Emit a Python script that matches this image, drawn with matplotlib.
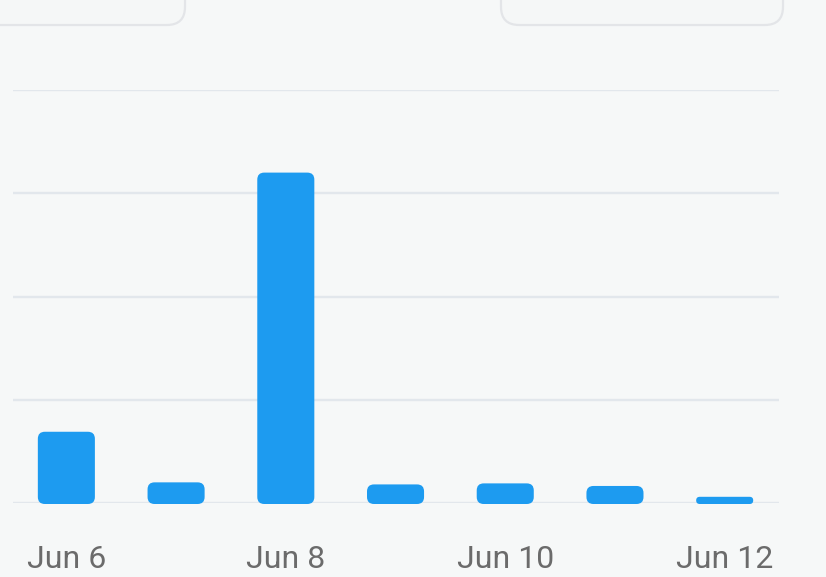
import matplotlib.pyplot as plt
from matplotlib.patches import FancyBboxPatch

# data
days = ["Jun 6", "Jun 7", "Jun 8", "Jun 9", "Jun 10", "Jun 11", "Jun 12"]
values = [69, 20, 320, 18, 19, 16.5, 6]
shown_labels = ["Jun 6", "", "Jun 8", "", "Jun 10", "", "Jun 12"]
y_ticks = [0, 100, 200, 300, 400]

bg = "#f6f8f8"
blue = "#1d9bf0"
grid_col = "#e2e7ec"

W, H = 826, 577
fig = plt.figure(figsize=(W / 100, H / 100), dpi=100)
fig.patch.set_facecolor(bg)

# the two cut-off cards at the top
for x0, x1 in [(-40, 185), (501, 783)]:
    card = FancyBboxPatch((x0 / W, 1 - 25 / H), (x1 - x0) / W, 80 / H,
                          boxstyle="round,pad=0,rounding_size=0.022",
                          mutation_aspect=W / H,
                          transform=fig.transFigure, facecolor="#f5f7f7",
                          edgecolor="#e3e5e8", linewidth=1.6)
    fig.patches.append(card)

ax = fig.add_axes([12.6 / W, 74 / H, (779 - 12.6) / W, (503 - 90) / H])
ax.set_facecolor(bg)
ax.set_xlim(-0.49, 6.495)
ax.set_ylim(0, 400)

x = list(range(len(days)))
bars = ax.bar(x, values, width=0.52, color=blue)

# pixels per data unit
px_x = (779 - 12.6) / (6.495 + 0.49)
px_y = (503 - 90) / 400
for b in bars:
    bx, by = b.get_x(), b.get_y() - 1 / px_y
    bw, bh = b.get_width(), b.get_height() + 1 / px_y
    r_px = min(7, bh * px_y / 2, bw * px_x / 2)
    patch = FancyBboxPatch((bx, by), bw, bh,
                           boxstyle=f"round,pad=0,rounding_size={r_px / px_x}",
                           mutation_aspect=px_x / px_y,
                           facecolor=blue, edgecolor="none", zorder=3,
                           clip_on=False)
    b.remove()
    ax.add_patch(patch)

ax.set_yticks(y_ticks)
ax.yaxis.grid(True, color=grid_col, linewidth=1.7, zorder=0)
ax.set_axisbelow(True)
ax.set_xticks(x)
ax.set_xticklabels(shown_labels, fontsize=23, color="#6b6b6b", family="Roboto")
ax.tick_params(axis="x", length=0, pad=30)
ax.tick_params(axis="y", length=0, labelleft=False)
for s in ax.spines.values():
    s.set_visible(False)

fig.savefig("out.png", dpi=100, facecolor=bg)
